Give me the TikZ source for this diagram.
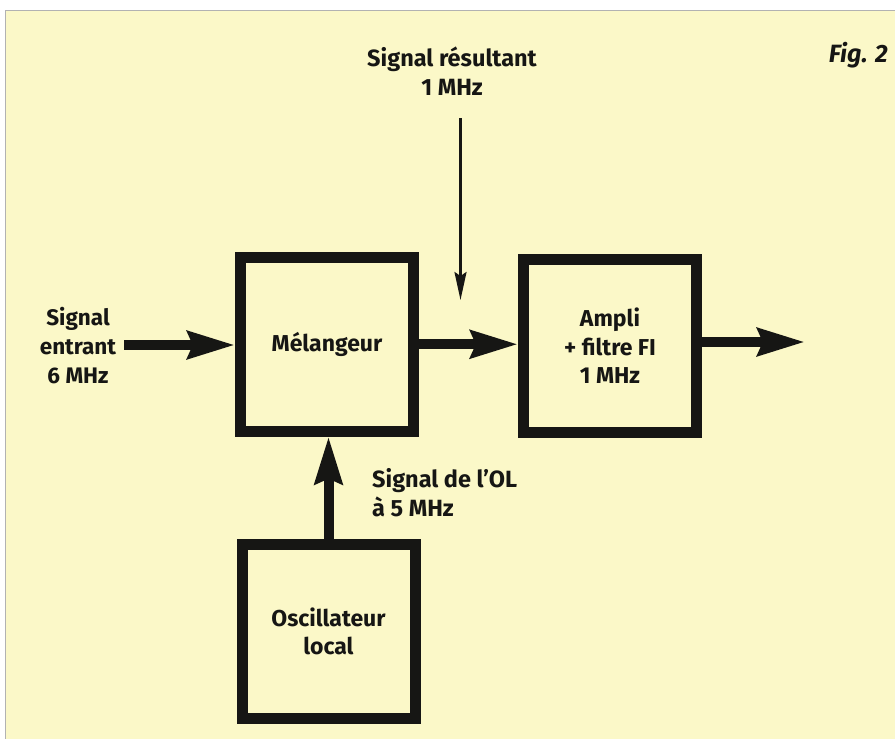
\documentclass[tikz,border=0pt]{standalone}
\usepackage{fontspec}
\setmainfont{Fira Sans}
\usetikzlibrary{arrows.meta}
\definecolor{paper}{RGB}{251,248,200}
\definecolor{ink}{RGB}{22,22,20}
\begin{document}
\begin{tikzpicture}[x=1pt,y=-1pt,
  lbl/.style={font=\fontsize{23.5}{29}\selectfont\bfseries, text=ink, align=center, inner sep=0pt},
  blockbox/.style={draw=ink, line width=11pt, minimum width=173pt, minimum height=173.5pt,
    inner sep=0pt, font=\fontsize{23}{28.5}\selectfont\bfseries, text=ink, align=center},
  bigarrow/.style={draw=ink, line width=10pt,
    -{Stealth[length=47pt,width=27pt,inset=5pt]}},
  thinarrow/.style={draw=ink, line width=2.5pt,
    -{Stealth[length=28pt,width=12pt,inset=4pt]}}]
  % page and frame
  \useasboundingbox (0,0) rectangle (895,739);
  \fill[white] (0,0) rectangle (895,739);
  \fill[paper] (5,10) rectangle (895,739);
  \draw[black!30, line width=1pt] (5,739) -- (5,10) -- (895,10);

  % blocks
  \node[blockbox] (mel) at (327,344.25) {Mélangeur};
  \node[blockbox] (amp) at (610,346) {Ampli\\+ filtre FI\\1 MHz};
  \node[blockbox] (osc) at (328.5,631.25) {Oscillateur\\local};

  % labels
  \node[lbl, font=\fontsize{22.5}{29}\selectfont\bfseries] (inlbl) at (78,346) {Signal\\entrant\\6 MHz};
  \node[lbl] (reslbl) at (452,71) {Signal résultant\\1 MHz};
  \node[lbl, align=left, anchor=west] (ollbl) at (372,493) {Signal de l’OL\\à 5 MHz};
  \node[lbl, font=\fontsize{25}{29}\selectfont\bfseries\itshape, anchor=east] (fig) at (888,55) {Fig. 2};

  % connector ends
  \coordinate (inA) at (124,345);
  \coordinate (outB) at (805,342);
  \coordinate (resA) at (460.5,118);
  \coordinate (resB) at (460.5,300);

  % connectors
  \draw[bigarrow] (inA) -- (mel.west |- inA);
  \draw[bigarrow] (mel.east) -- (amp.west |- mel.east);
  \draw[bigarrow] (amp.east |- outB) -- (outB);
  \draw[bigarrow] (osc.north) -- (osc.north |- mel.south);
  \draw[thinarrow] (resA) -- (resB);
\end{tikzpicture}
\end{document}
